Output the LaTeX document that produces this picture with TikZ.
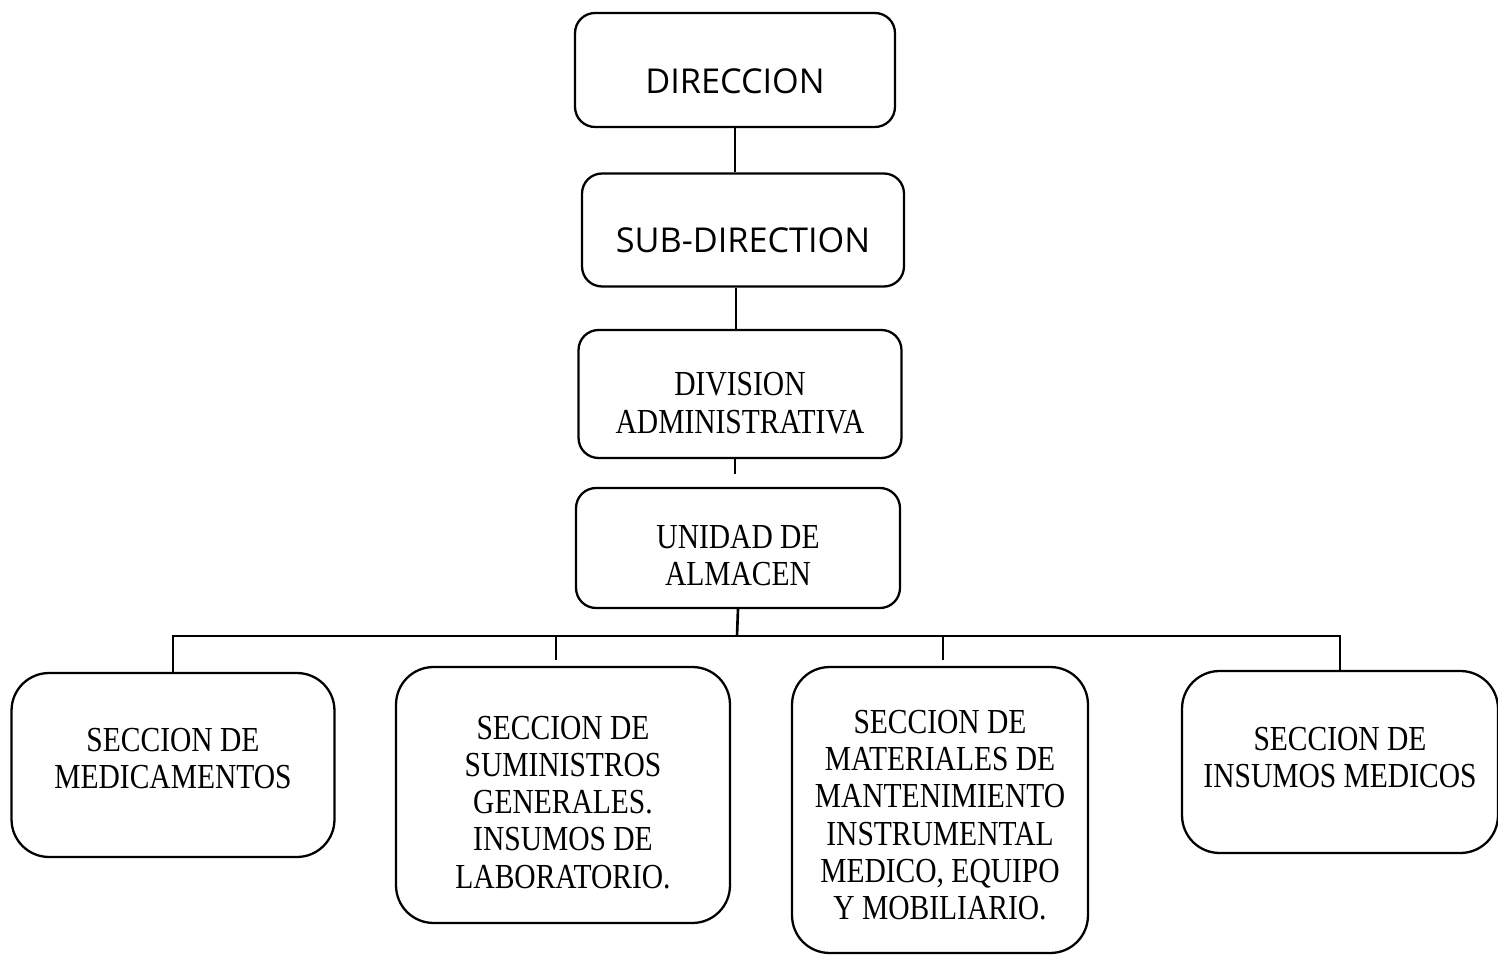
\documentclass[tikz,border=0pt]{standalone}
\usepackage{fontspec}
\newfontfamily\serifbox[FakeStretch=0.84]{Liberation Serif}
\newfontfamily\sansbox{Open Sans}
\usetikzlibrary{positioning}
\begin{document}
\begin{tikzpicture}[x=0.02cm,y=-0.02cm]
\tikzstyle{every node}+=[inner sep=0pt]
\tikzstyle{topbox}=[draw=black,line width=1.3pt,rounded corners=0.4cm,align=center,text depth=0pt,font=\sansbox\fontsize{19.5}{22}\selectfont]
\tikzstyle{midbox}=[draw=black,line width=1.3pt,rounded corners=0.4cm,align=center,text depth=0pt,font=\serifbox\fontsize{20}{21.2}\selectfont]
\tikzstyle{secbox}=[draw=black,line width=1.3pt,rounded corners=0.75cm,align=center,text depth=0pt,font=\serifbox\fontsize{20}{21.2}\selectfont]
\tikzstyle{link}=[black,line width=1.5pt]
\useasboundingbox (0,0) rectangle (1498,959);
\node [topbox,minimum width=6.4cm,minimum height=2.28cm,text height=26.3pt] (dir) at (735,70) {DIRECCION};
\node [topbox,minimum width=6.44cm,minimum height=2.26cm,text height=25.3pt] (sub) at (743,230) {SUB-DIRECTION};
\node [midbox,minimum width=6.46cm,minimum height=2.56cm,text height=44.6pt] (div) at (740,394) {DIVISION\\ADMINISTRATIVA};
\node [midbox,minimum width=6.48cm,minimum height=2.4cm,text height=42.4pt] (uni) at (738,548) {UNIDAD DE\\ALMACEN};
\node [secbox,minimum width=6.46cm,minimum height=3.68cm,text height=27pt] (med) at (173,765) {SECCION DE\\MEDICAMENTOS};
\node [secbox,minimum width=6.68cm,minimum height=5.12cm,text height=106pt] (sum) at (563,795) {SECCION DE\\SUMINISTROS\\GENERALES.\\INSUMOS DE\\LABORATORIO.};
\node [secbox,minimum width=5.92cm,minimum height=5.72cm,text height=124.9pt] (mat) at (940,810) {SECCION DE\\MATERIALES DE\\MANTENIMIENTO\\INSTRUMENTAL\\MEDICO, EQUIPO\\Y MOBILIARIO.};
\node [secbox,minimum width=6.32cm,minimum height=3.64cm,text height=29.3pt] (ins) at (1340,762) {SECCION DE\\INSUMOS MEDICOS};
\coordinate (tick) at (735,474);
\coordinate (bus) at (737,636);
\coordinate (sumstub) at (556,660);
\coordinate (matstub) at (943,660);
\draw [link] (dir.south) -- (dir.south |- sub.north);
\draw [link] (div.north -| 736,0) -- (sub.south -| 736,0);
\draw [link] (div.south -| tick) -- (tick);
\draw [link] (uni.south) -- (bus);
\draw [link] (med.north) -- (med.north |- bus) -- (ins.north |- bus) -- (ins.north);
\draw [link] (sumstub |- bus) -- (sumstub);
\draw [link] (matstub |- bus) -- (matstub);
\end{tikzpicture}
\end{document}
